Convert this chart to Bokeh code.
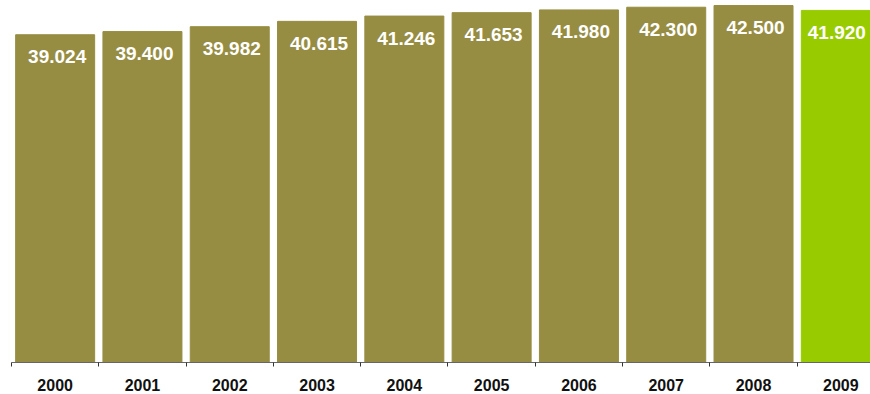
from bokeh.plotting import figure
from bokeh.models import ColumnDataSource, FixedTicker, Range1d
from bokeh.core.properties import value
from bokeh.embed import file_html
from bokeh.resources import INLINE

years = ["2000", "2001", "2002", "2003", "2004", "2005", "2006", "2007", "2008", "2009"]
values = [39.024, 39.400, 39.982, 40.615, 41.246, 41.653, 41.980, 42.300, 42.500, 41.920]
colors = ["#978D42"] * 9 + ["#99CC00"]

xs = [i + 0.5 for i in range(len(years))]
labels = [f"{v:.3f}" for v in values]

src = ColumnDataSource(dict(x=xs, top=values, color=colors, label=labels))
src_main = ColumnDataSource(dict(x=xs[:-1], top=values[:-1], label=labels[:-1]))
src_last = ColumnDataSource(dict(x=xs[-1:], top=values[-1:], label=labels[-1:]))

p = figure(output_backend="svg", toolbar_location=None,
           frame_width=859, frame_height=362,
           x_range=Range1d(0, 9.84), y_range=Range1d(0, 43.1),
           min_border_left=11, min_border_right=0, min_border_top=0, min_border_bottom=0)
p.outline_line_color = None
p.background_fill_color = "white"
p.xgrid.visible = False
p.ygrid.visible = False
p.yaxis.visible = False

p.vbar(x="x", top="top", width=0.905, bottom=0, color="color", source=src)
txt = dict(text="label", text_color="white",
           text_font=value("Liberation Sans"), text_font_style="bold",
           text_font_size="19px", text_align="center", text_baseline="middle",
           y_offset=22)
p.text(x="x", y="top", source=src_main, x_offset=2, **txt)
p.text(x="x", y="top", source=src_last, x_offset=-4, **txt)

ax = p.xaxis[0]
ax.ticker = FixedTicker(ticks=xs, minor_ticks=list(range(len(years))))
ax.major_label_overrides = {x: y for x, y in zip(xs, years)}
ax.major_tick_line_color = None
ax.major_tick_out = 0
ax.major_tick_in = 0
ax.minor_tick_out = 4
ax.minor_tick_in = 0
ax.minor_tick_line_color = "#333333"
ax.axis_line_color = "#666666"
ax.major_label_text_font = "Liberation Sans"
ax.major_label_text_font_style = "bold"
ax.major_label_text_font_size = "16px"
ax.major_label_text_color = "#111111"
ax.major_label_standoff = 12

open("out.html", "w").write(file_html(p, INLINE))
